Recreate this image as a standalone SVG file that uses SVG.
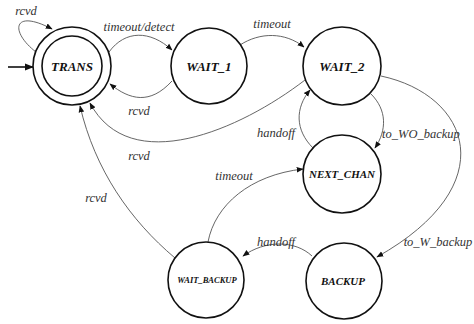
<svg xmlns="http://www.w3.org/2000/svg" width="474" height="324" viewBox="0 0 474 324">
  <style>
    .state { fill: #fff; stroke: #111; stroke-width: 1.6; }
    .name { font-weight: bold; font-style: italic; fill: #111; text-anchor: middle; }
    .edge { fill: none; stroke: #555; stroke-width: 0.9; marker-end: url(#head); }
    .lbl { font-style: italic; font-size: 12.5px; fill: #333; text-anchor: middle; }
  </style>
  <defs>
    <marker id="head" viewBox="0 0 10 10" refX="9" refY="5" markerWidth="7" markerHeight="7" markerUnits="userSpaceOnUse" orient="auto">
      <path d="M0,1 L10,5 L0,9 Z" fill="#111"/>
    </marker>
    <marker id="start-head" viewBox="0 0 10 10" refX="9" refY="5" markerWidth="9" markerHeight="9" markerUnits="userSpaceOnUse" orient="auto">
      <path d="M0,1 L10,5 L0,9 Z" fill="#111"/>
    </marker>
  </defs>

  <rect width="474" height="324" fill="#fff"/>

  <g font-family="Liberation Serif, DejaVu Serif, serif">
  <!-- transitions -->
  <g id="connectors">
    <line x1="8" y1="67" x2="33" y2="67" stroke="#111" stroke-width="1.6" marker-end="url(#start-head)"/>
    <path class="edge" d="M36,52 C10,32 12,8 52,29"/>
    <path class="edge" d="M109,52 C125,30 150,30 172,50"/>
    <path class="edge" d="M172,81 C150,105 130,100 110,84"/>
    <path class="edge" d="M240,45 C260,32 285,32 304,47"/>
    <path class="edge" d="M305,80 C240,130 130,178 90,103"/>
    <path class="edge" d="M175,258 C130,220 95,170 80,106"/>
    <path class="edge" d="M371,94 C387,110 387,130 375,148"/>
    <path class="edge" d="M313,148 C295,130 295,108 310,90"/>
    <path class="edge" d="M381,76 C470,95 505,185 377,257"/>
    <path class="edge" d="M312,256 C295,240 265,240 243,256"/>
    <path class="edge" d="M208,242 C215,205 250,175 303,169"/>

    <text class="lbl" x="26" y="15">rcvd</text>
    <text class="lbl" x="139" y="31">timeout/detect</text>
    <text class="lbl" x="139" y="115">rcvd</text>
    <text class="lbl" x="272" y="28">timeout</text>
    <text class="lbl" x="139" y="160">rcvd</text>
    <text class="lbl" x="276" y="137">handoff</text>
    <text class="lbl" x="421" y="138">to_WO_backup</text>
    <text class="lbl" x="234" y="180">timeout</text>
    <text class="lbl" x="96" y="202">rcvd</text>
    <text class="lbl" x="276" y="246">handoff</text>
    <text class="lbl" x="438" y="246">to_W_backup</text>
  </g>

  <g id="TRANS">
    <circle class="state" cx="72" cy="66" r="39"/>
    <circle class="state" cx="72" cy="66" r="30"/>
    <text class="name" x="72" y="71" font-size="13">TRANS</text>
  </g>
  <g id="WAIT_1">
    <circle class="state" cx="209" cy="66" r="38"/>
    <text class="name" x="209" y="71" font-size="13">WAIT_1</text>
  </g>
  <g id="WAIT_2">
    <circle class="state" cx="342" cy="66" r="39"/>
    <text class="name" x="342" y="71" font-size="13">WAIT_2</text>
  </g>
  <g id="NEXT_CHAN">
    <circle class="state" cx="342" cy="174" r="39"/>
    <text class="name" x="342" y="178" font-size="11">NEXT_CHAN</text>
  </g>
  <g id="BACKUP">
    <circle class="state" cx="344" cy="281" r="38"/>
    <text class="name" x="343" y="285" font-size="11">BACKUP</text>
  </g>
  <g id="WAIT_BACKUP">
    <circle class="state" cx="206" cy="280" r="38"/>
    <text class="name" x="207" y="283" font-size="8.5">WAIT_BACKUP</text>
  </g>
  </g>
</svg>
